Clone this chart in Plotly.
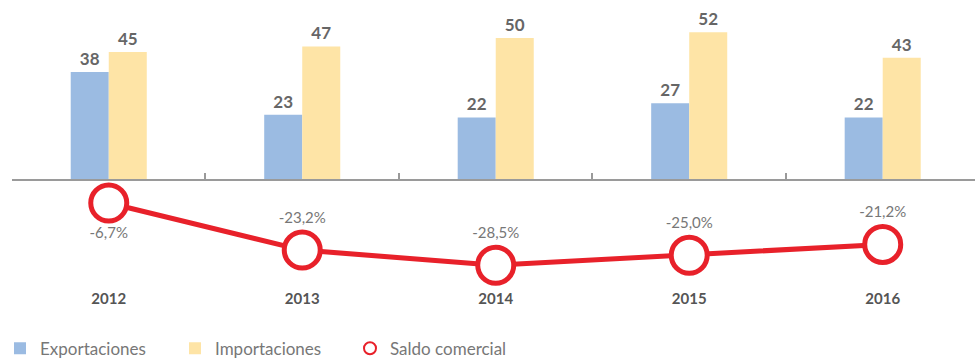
import plotly.graph_objects as go

years = ["2012", "2013", "2014", "2015", "2016"]
exportaciones = [38, 23, 22, 27, 22]
importaciones = [45, 47, 50, 52, 43]
saldo = [-6.7, -23.2, -28.5, -25.0, -21.2]
saldo_labels = ["-6,7%", "-23,2%", "-28,5%", "-25,0%", "-21,2%"]
saldo_pos = ["bottom center", "top center", "top center", "top center", "top center"]

BLUE = "#9BBBE2"
YELLOW = "#FEE4A6"
RED = "#E8212A"
GRAY_TXT = "#666666"
FONT = "Lato"

fig = go.Figure()
fig.add_trace(go.Bar(
    x=years, y=exportaciones, name="Exportaciones",
    marker=dict(color=BLUE, line=dict(width=0)),
    text=[str(v) for v in exportaciones], textposition="outside",
    textfont=dict(family=FONT, size=17, color=GRAY_TXT, weight="bold"),
    cliponaxis=False,
))
fig.add_trace(go.Bar(
    x=years, y=importaciones, name="Importaciones",
    marker=dict(color=YELLOW, line=dict(width=0)),
    text=[str(v) for v in importaciones], textposition="outside",
    textfont=dict(family=FONT, size=17, color=GRAY_TXT, weight="bold"),
    cliponaxis=False,
))
fig.add_trace(go.Scatter(
    x=years, y=saldo, yaxis="y2", mode="lines", showlegend=False,
    line=dict(color=RED, width=5), cliponaxis=False, hoverinfo="skip",
))
fig.add_trace(go.Scatter(
    x=years, y=saldo, yaxis="y2", mode="markers+text", name="Saldo comercial",
    marker=dict(size=36, color="white", line=dict(color=RED, width=5)),
    text=saldo_labels, textposition=saldo_pos,
    textfont=dict(family=FONT, size=15, color="#777777"),
    cliponaxis=False,
))

fig.update_layout(
    width=975, height=358,
    margin=dict(l=12, r=0, t=20, b=68, autoexpand=False),
    plot_bgcolor="white", paper_bgcolor="white",
    barmode="group", bargap=0.607, bargroupgap=0,
    font=dict(family=FONT, color=GRAY_TXT),
    xaxis=dict(
        range=[-0.5, 4.477], anchor="free", position=(110 / 270),
        automargin=False,
        showline=True, linecolor="#9a9a9a", linewidth=2,
        ticks="inside", ticklen=6, tickwidth=2, tickcolor="#9a9a9a",
        tickson="boundaries", showgrid=False,
        tickfont=dict(family=FONT, size=15, color="#555555", weight="bold"),
        ticklabelstandoff=105,
    ),
    yaxis=dict(range=[-38.7, 56.3], visible=False, showgrid=False, zeroline=False,
               automargin=False),
    yaxis2=dict(range=[-37.2, 57.5], overlaying="y", visible=False,
                showgrid=False, zeroline=False, automargin=False),
    legend=dict(
        orientation="h", xref="container", yref="container",
        x=0.0, y=0.026, xanchor="left", yanchor="middle",
        font=dict(family=FONT, size=17, color="#777777"),
        itemsizing="constant", entrywidth=130, traceorder="normal",
    ),
)

fig.write_html("out.html")
